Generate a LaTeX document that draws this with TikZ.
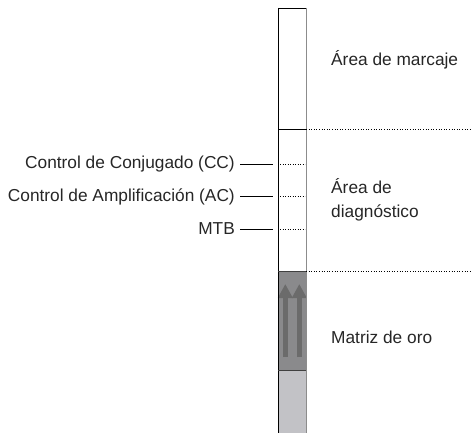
\documentclass[tikz,border=0pt]{standalone}
\usepackage{fontspec}
\setmainfont{Liberation Sans}
\usetikzlibrary{arrows.meta}
\definecolor{gold}{HTML}{8A8A8C}
\definecolor{padc}{HTML}{C2C2C6}
\definecolor{arrc}{HTML}{6B6B6B}
\definecolor{edgec}{HTML}{8C8C8C}
\tikzset{
  lbl/.style={font=\fontsize{17.3}{24}\selectfont, inner sep=0pt, text=black!85},
  dotl/.style={dotted, line width=0.6pt, black},
  leader/.style={line width=0.7pt, black},
  goldarrow/.style={line width=4.5pt, arrc, -{Triangle[width=14pt,length=14pt]}, shorten >=0pt}
}
\begin{document}
\begin{tikzpicture}[x=1pt,y=-1pt]
\useasboundingbox (0,0) rectangle (471,433);
% strip regions
\fill[padc] (278,371) rectangle (306,433);
\fill[gold] (278,271) rectangle (306,371);
\draw[goldarrow] (285.3,357) -- (285.3,284);
\draw[goldarrow] (299.3,357) -- (299.3,284);
\draw[line width=0.8pt] (278,8) -- (278,433);
\draw[line width=0.8pt, edgec] (306,8) -- (306,433);
\draw[line width=0.8pt] (278,8.3) -- (306,8.3);
\draw[line width=0.8pt] (278,129.3) -- (306,129.3);
\draw[line width=0.8pt, black!75] (278,271) -- (306,271);
\draw[line width=0.8pt, black!75] (278,370.7) -- (306,370.7);
% boundary coordinates
\coordinate (b1) at (306,129.3);
\coordinate (b1e) at (471,129.3);
\coordinate (b2) at (306,271);
\coordinate (b2e) at (471,271);
\draw[dotl] (b1) -- (b1e);
\draw[dotl] (b2) -- (b2e);
% right labels
\node[lbl, anchor=west] (mark) at (331,60) {Área de marcaje};
\node[lbl, anchor=west, align=left] (diag) at (331,200) {Área de\\diagnóstico};
\node[lbl, anchor=west] (oro) at (331,337) {Matriz de oro};
% left labels
\node[lbl, anchor=east] (cc) at (235,164) {Control de Conjugado (CC)};
\node[lbl, anchor=east] (ac) at (235,196.5) {Control de Amplificación (AC)};
\node[lbl, anchor=east] (mtb) at (235,229) {MTB};
\coordinate (cc1) at (240,164); \coordinate (cc2) at (272.5,164);
\coordinate (ac1) at (240,196.5); \coordinate (ac2) at (272.5,196.5);
\coordinate (mt1) at (240,229); \coordinate (mt2) at (272.5,229);
\draw[leader] (cc1) -- (cc2);
\draw[leader] (ac1) -- (ac2);
\draw[leader] (mt1) -- (mt2);
\draw[dotl, line width=0.5pt] (280,164) -- (305,164);
\draw[dotl, line width=0.5pt] (280,196.5) -- (305,196.5);
\draw[dotl, line width=0.5pt] (280,229) -- (305,229);
\end{tikzpicture}
\end{document}
